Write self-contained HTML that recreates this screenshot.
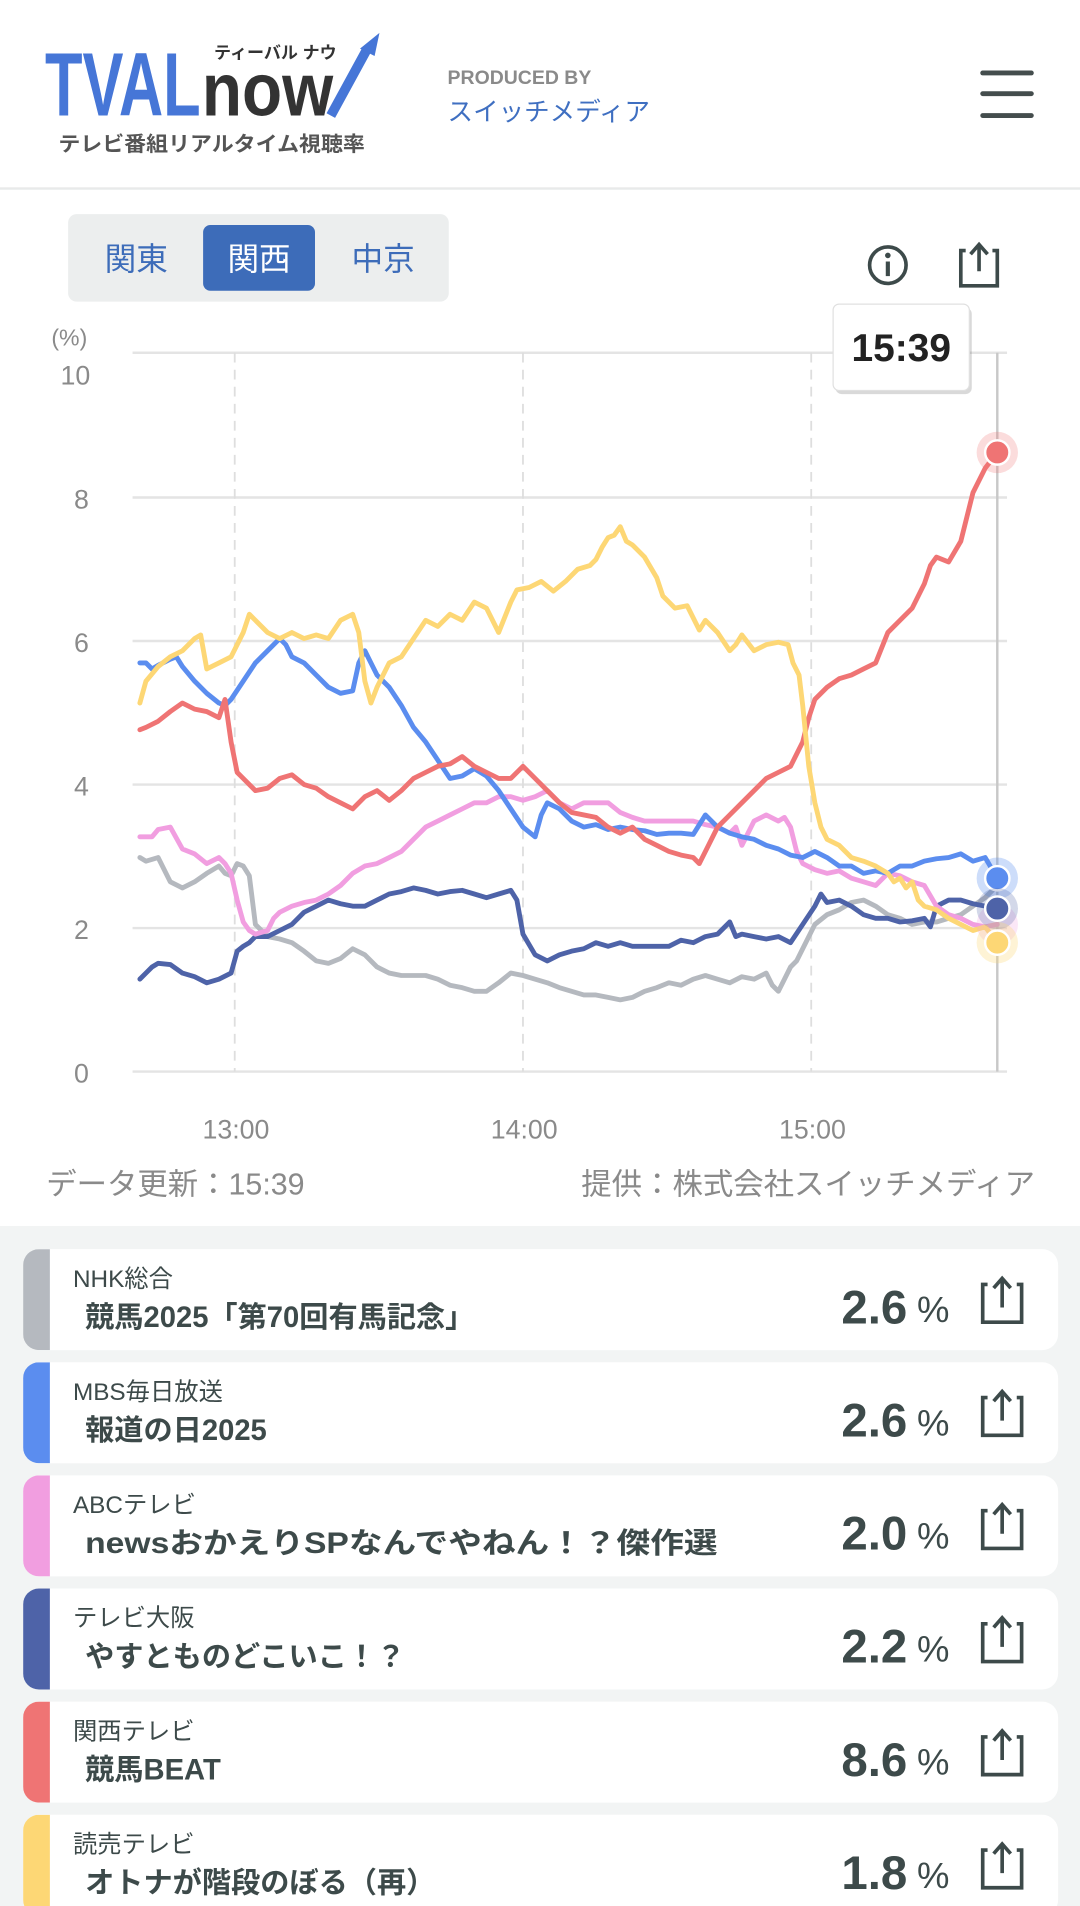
<!DOCTYPE html>
<html><head><meta charset="utf-8"><style>
html,body{margin:0;padding:0;background:#fff;width:1080px;height:1906px;overflow:hidden}
svg{display:block}
text{font-family:"Liberation Sans","Noto Sans CJK JP",sans-serif}
</style></head><body>
<svg width="1080" height="1906" viewBox="0 0 888 1567" preserveAspectRatio="none" xmlns="http://www.w3.org/2000/svg">
<rect x="0" y="0" width="888" height="1567" fill="#fff"/>
<!-- header -->
<text x="37" y="95" font-size="74" font-weight="bold" fill="#4676d7" textLength="128" lengthAdjust="spacingAndGlyphs">TVAL</text>
<text x="166" y="95" font-size="62" font-weight="bold" fill="#333" textLength="108" lengthAdjust="spacingAndGlyphs">now</text>
<polyline points="272,95 302,40" stroke="#4676d7" stroke-width="8" fill="none"/>
<polygon points="312,27 296,40 308,46" fill="#4676d7"/>
<text x="176" y="48" font-size="14" font-weight="bold" fill="#333">ティーバル ナウ</text>
<text x="48" y="124" font-size="17" font-weight="bold" fill="#555" textLength="252" lengthAdjust="spacingAndGlyphs">テレビ番組リアルタイム視聴率</text>
<text x="368" y="69" font-size="16" fill="#8a8a8a" font-weight="bold">PRODUCED BY</text>
<text x="368" y="99" font-size="21" fill="#3f6fc1">スイッチメディア</text>
<rect x="806" y="58" width="44" height="4" rx="2" fill="#444d4d"/>
<rect x="806" y="75" width="44" height="4" rx="2" fill="#444d4d"/>
<rect x="806" y="93" width="44" height="4" rx="2" fill="#444d4d"/>
<rect x="0" y="154" width="888" height="2" fill="#e8eaea"/>
<!-- segmented -->
<rect x="56" y="176" width="313" height="72" rx="7" fill="#eceeee"/>
<rect x="167" y="185" width="92" height="54" rx="6" fill="#3d6cb9"/>
<text x="112" y="222" font-size="26" fill="#3d6cb9" text-anchor="middle">関東</text>
<text x="213" y="222" font-size="26" fill="#fff" text-anchor="middle">関西</text>
<text x="315" y="222" font-size="26" fill="#3d6cb9" text-anchor="middle">中京</text>
<!-- icons -->
<circle cx="730" cy="218" r="15" fill="none" stroke="#3d4a4a" stroke-width="3"/>
<circle cx="730" cy="210" r="2.3" fill="#3d4a4a"/>
<rect x="728.3" y="215" width="3.4" height="12" fill="#3d4a4a"/>
<path d="M794 206 H790 V235 H820 V206 H816" fill="none" stroke="#3d4a4a" stroke-width="3"/>
<path d="M805 223 V202 M798 209 L805 201 L812 209" fill="none" stroke="#3d4a4a" stroke-width="3"/>
<!-- chart grid -->
<g stroke="#e4e4e4" stroke-width="2">
<line x1="109" y1="290" x2="828" y2="290"/><line x1="109" y1="409" x2="828" y2="409"/>
<line x1="109" y1="527" x2="828" y2="527"/><line x1="109" y1="645" x2="828" y2="645"/>
<line x1="109" y1="763" x2="828" y2="763"/><line x1="109" y1="881" x2="828" y2="881"/>
</g>
<g stroke="#dedede" stroke-width="1.5" stroke-dasharray="8,6">
<line x1="193" y1="290" x2="193" y2="881"/><line x1="430" y1="290" x2="430" y2="881"/><line x1="667" y1="290" x2="667" y2="881"/>
</g>
<line x1="820" y1="290" x2="820" y2="881" stroke="#c8c8c8" stroke-width="2"/>
<g font-size="22" fill="#8a8a8a" text-anchor="middle">
<text x="57" y="284" font-size="19">(%)</text>
<text x="62" y="316">10</text><text x="67" y="418">8</text><text x="67" y="536">6</text>
<text x="67" y="654">4</text><text x="67" y="772">2</text><text x="67" y="890">0</text>
<text x="194" y="936">13:00</text><text x="431" y="936">14:00</text><text x="668" y="936">15:00</text>
</g>
<text x="38" y="982" font-size="25" fill="#8a8a8a">データ更新：15:39</text>
<text x="851" y="982" font-size="25" fill="#8a8a8a" text-anchor="end">提供：株式会社スイッチメディア</text>
<!-- series -->
<g fill="none" stroke-width="4" stroke-linejoin="round" stroke-linecap="round">
<polyline stroke="#b5b9bf" points="115,705 120,708 130,705 140,725 150,730 160,725 170,718 180,712 185,718 190,720 195,710 200,712 205,720 210,760 215,765 220,770 230,772 240,775 250,782 260,790 270,792 280,788 290,780 300,785 310,795 320,800 330,802 340,802 350,802 360,805 370,810 380,812 390,815 400,815 410,808 420,800 430,802 440,805 450,808 460,812 470,815 480,818 490,818 500,820 510,822 520,820 530,815 540,812 550,808 560,810 570,805 580,802 590,805 600,808 610,803 620,805 630,800 635,810 640,815 645,805 650,795 655,790 660,780 670,760 680,752 690,748 700,742 710,740 720,745 730,752 740,755 750,760 760,758 770,758 780,755 790,752 800,745 810,738 820,728"/>
<polyline stroke="#4e63a8" points="115,805 120,800 125,795 130,792 140,793 150,800 160,803 170,808 180,805 190,800 195,782 200,778 205,775 210,770 220,770 230,765 240,760 250,750 260,745 270,740 280,743 290,745 300,745 310,740 320,735 330,733 340,730 350,732 360,735 370,733 380,732 390,735 400,738 410,735 420,732 425,740 430,768 440,785 450,790 460,785 470,782 480,780 490,775 500,778 510,775 520,778 530,778 540,778 550,778 560,773 570,775 580,770 590,768 600,758 605,770 610,768 620,770 630,772 640,770 650,775 660,760 670,745 675,735 680,742 690,740 700,745 710,752 720,755 730,755 740,758 750,757 760,755 765,762 770,745 780,740 790,740 800,743 810,745 820,748"/>
<polyline stroke="#f19ee0" points="115,688 125,688 130,682 140,680 150,698 160,702 170,710 180,705 185,710 190,718 195,740 200,758 205,765 210,768 220,765 225,755 230,750 240,745 250,742 260,740 270,735 280,728 290,718 300,712 310,710 320,705 330,700 340,690 350,680 360,675 370,670 380,665 390,660 400,660 410,655 420,655 430,658 440,655 450,650 460,660 470,665 480,660 490,660 500,660 510,668 520,672 530,675 540,675 550,675 560,675 570,675 580,678 590,680 600,685 605,680 610,695 620,675 630,670 640,675 645,672 650,680 655,700 660,710 670,715 680,718 690,716 700,722 710,725 720,728 730,718 740,720 750,725 760,728 770,745 780,752 790,755 800,760 810,762 820,760"/>
<polyline stroke="#5b8def" points="115,545 120,545 125,550 130,547 140,542 145,540 150,548 160,560 170,570 180,578 185,580 190,575 200,560 210,545 220,535 230,525 235,530 240,540 250,545 260,555 270,565 280,570 290,568 295,545 300,535 305,545 310,555 320,565 330,580 340,598 350,610 360,625 370,640 380,638 390,632 400,638 410,650 420,665 430,680 440,688 445,670 450,660 460,665 470,675 480,680 490,678 500,682 510,680 520,682 530,683 540,686 550,685 560,685 570,686 580,670 590,680 600,685 610,688 620,690 630,695 640,698 650,703 660,705 670,700 680,705 690,712 700,712 710,718 720,716 730,718 740,712 750,712 760,708 770,706 780,705 790,702 800,708 810,705 820,722"/>
<polyline stroke="#ef7474" points="115,600 120,598 130,593 140,585 150,578 160,583 170,585 180,590 185,575 190,610 195,635 200,640 210,650 220,648 230,640 240,637 250,645 260,648 270,655 280,660 290,665 300,655 310,650 320,658 330,650 340,640 350,635 360,630 370,628 380,622 390,630 400,635 410,640 420,640 430,630 440,640 450,650 460,660 470,668 480,670 490,672 500,680 510,685 520,680 530,690 540,695 550,700 560,703 570,705 575,710 580,700 590,680 600,670 610,660 620,650 630,640 640,635 650,630 655,620 660,610 665,590 670,575 680,565 690,558 700,555 710,550 720,545 730,520 740,510 750,500 760,480 765,465 770,458 780,462 790,445 795,425 800,405 810,385 820,372"/>
<polyline stroke="#fdd775" points="115,578 120,560 130,548 140,540 150,535 160,525 165,522 170,550 180,545 190,540 200,520 205,505 210,510 220,520 230,525 240,520 250,525 260,522 270,525 280,510 290,505 295,520 300,560 305,578 310,565 320,545 330,540 340,525 350,510 360,515 370,505 380,510 390,495 400,500 410,520 420,495 425,485 435,483 445,478 455,486 465,478 475,468 485,465 490,460 495,450 500,442 505,440 510,433 515,445 520,448 530,458 540,475 545,490 555,500 565,498 575,518 580,510 590,520 600,535 605,530 610,522 620,535 630,530 640,528 648,530 652,545 657,555 660,580 665,630 670,660 675,680 680,690 690,695 700,705 710,708 720,712 730,718 735,725 740,722 745,730 750,725 755,740 760,745 770,748 780,755 790,760 800,765 810,762 820,775"/>
</g>
<!-- markers -->
<circle cx="820" cy="372" r="17" fill="#ef7474" opacity="0.25"/><circle cx="820" cy="372" r="10" fill="#ef7474" stroke="#fff" stroke-width="2"/>
<circle cx="820" cy="760" r="17" fill="#f19ee0" opacity="0.25"/>
<circle cx="820" cy="722" r="17" fill="#5b8def" opacity="0.3"/><circle cx="820" cy="722" r="10" fill="#5b8def" stroke="#fff" stroke-width="2"/>
<circle cx="820" cy="747" r="17" fill="#4e63a8" opacity="0.25"/><circle cx="820" cy="747" r="10" fill="#4e63a8" stroke="#fff" stroke-width="2"/>
<circle cx="820" cy="775" r="17" fill="#fdd775" opacity="0.3"/><circle cx="820" cy="775" r="10" fill="#fdd775" stroke="#fff" stroke-width="2"/>
<!-- tooltip -->
<rect x="687" y="253" width="112" height="71" rx="5" fill="#000" opacity="0.15"/>
<rect x="685" y="250" width="112" height="71" rx="5" fill="#fff" stroke="#e0e0e0"/>
<text x="741" y="297" font-size="32" font-weight="bold" fill="#222" text-anchor="middle">15:39</text>
<!-- list -->
<rect x="0" y="1008" width="888" height="560" fill="#f2f4f4"/>
<defs><clipPath id="cc"><rect x="19" y="0" width="851" height="83" rx="13"/></clipPath></defs>
<g>
<g transform="translate(0,1027)">
<rect x="19" y="0" width="851" height="83" rx="13" fill="#fff"/>
<rect x="19" y="0" width="22" height="83" fill="#b5b9bf" clip-path="url(#cc)"/>
<text x="60" y="31" font-size="20" fill="#3d4a4a">NHK総合</text>
<text x="70" y="64" font-size="24" font-weight="bold" fill="#3d4a4a">競馬2025「第70回有馬記念」</text>
</g>
<g transform="translate(0,1120)">
<rect x="19" y="0" width="851" height="83" rx="13" fill="#fff"/>
<rect x="19" y="0" width="22" height="83" fill="#5b8def" clip-path="url(#cc)"/>
<text x="60" y="31" font-size="20" fill="#3d4a4a">MBS毎日放送</text>
<text x="70" y="64" font-size="24" font-weight="bold" fill="#3d4a4a">報道の日2025</text>
</g>
<g transform="translate(0,1213)">
<rect x="19" y="0" width="851" height="83" rx="13" fill="#fff"/>
<rect x="19" y="0" width="22" height="83" fill="#f19ee0" clip-path="url(#cc)"/>
<text x="60" y="31" font-size="20" fill="#3d4a4a">ABCテレビ</text>
<text x="70" y="64" font-size="24" font-weight="bold" fill="#3d4a4a" textLength="520" lengthAdjust="spacingAndGlyphs">newsおかえりSPなんでやねん！？傑作選</text>
</g>
<g transform="translate(0,1306)">
<rect x="19" y="0" width="851" height="83" rx="13" fill="#fff"/>
<rect x="19" y="0" width="22" height="83" fill="#4e63a8" clip-path="url(#cc)"/>
<text x="60" y="31" font-size="20" fill="#3d4a4a">テレビ大阪</text>
<text x="70" y="64" font-size="24" font-weight="bold" fill="#3d4a4a">やすとものどこいこ！？</text>
</g>
<g transform="translate(0,1399)">
<rect x="19" y="0" width="851" height="83" rx="13" fill="#fff"/>
<rect x="19" y="0" width="22" height="83" fill="#ef7474" clip-path="url(#cc)"/>
<text x="60" y="31" font-size="20" fill="#3d4a4a">関西テレビ</text>
<text x="70" y="64" font-size="24" font-weight="bold" fill="#3d4a4a">競馬BEAT</text>
</g>
<g transform="translate(0,1492)">
<rect x="19" y="0" width="851" height="83" rx="13" fill="#fff"/>
<rect x="19" y="0" width="22" height="83" fill="#fdd775" clip-path="url(#cc)"/>
<text x="60" y="31" font-size="20" fill="#3d4a4a">読売テレビ</text>
<text x="70" y="64" font-size="24" font-weight="bold" fill="#3d4a4a">オトナが階段のぼる（再）</text>
</g>
</g>
<g fill="#3d4a4a">
<g font-size="39" font-weight="bold" text-anchor="end">
<text x="746" y="1088">2.6</text><text x="746" y="1181">2.6</text><text x="746" y="1274">2.0</text>
<text x="746" y="1367">2.2</text><text x="746" y="1460">8.6</text><text x="746" y="1553">1.8</text>
</g>
<g font-size="30">
<text x="754" y="1087">%</text><text x="754" y="1180">%</text><text x="754" y="1273">%</text>
<text x="754" y="1366">%</text><text x="754" y="1459">%</text><text x="754" y="1552">%</text>
</g>
</g>
<g fill="none" stroke="#3d4a4a" stroke-width="3">
<path d="M812 1056 H808 V1087 H840 V1056 H836 M824 1075 V1052 M817 1059 L824 1051 L831 1059"/>
<path d="M812 1149 H808 V1180 H840 V1149 H836 M824 1168 V1145 M817 1152 L824 1144 L831 1152"/>
<path d="M812 1242 H808 V1273 H840 V1242 H836 M824 1261 V1238 M817 1245 L824 1237 L831 1245"/>
<path d="M812 1335 H808 V1366 H840 V1335 H836 M824 1354 V1331 M817 1338 L824 1330 L831 1338"/>
<path d="M812 1428 H808 V1459 H840 V1428 H836 M824 1447 V1424 M817 1431 L824 1423 L831 1431"/>
<path d="M812 1521 H808 V1552 H840 V1521 H836 M824 1540 V1517 M817 1524 L824 1516 L831 1524"/>
</g>
</svg>
</body></html>
